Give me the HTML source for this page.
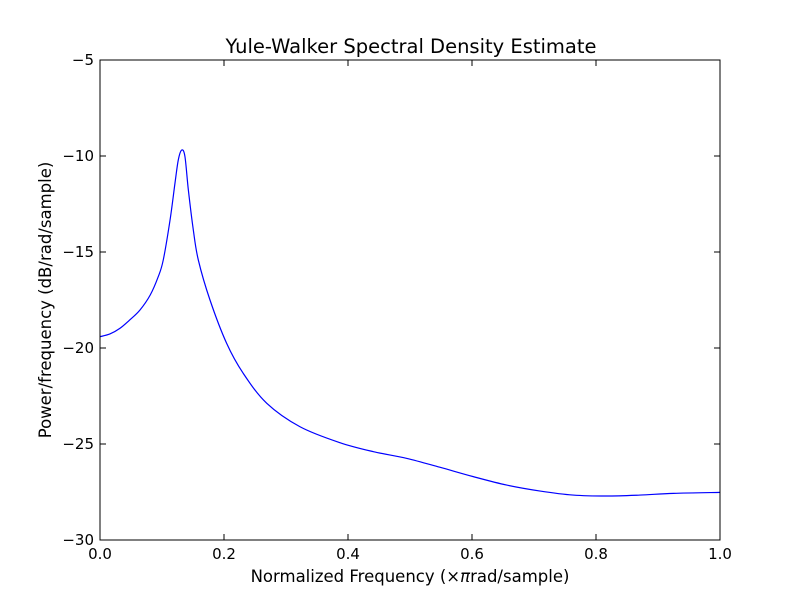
<!DOCTYPE html>
<html><head><meta charset="utf-8"><style>
body{margin:0;background:#fff}
svg{display:block;font-family:"DejaVu Sans","Liberation Sans",sans-serif}
</style></head><body>
<svg id="chart" width="800" height="600">
<rect width="800" height="600" fill="#fff"/>
<text x="411" y="53" font-size="19.5" text-anchor="middle">Yule-Walker Spectral Density Estimate</text>
<g id="plot"></g>
<text x="410" y="582" font-size="16.5" text-anchor="middle">Normalized Frequency (×<tspan font-style="italic">π</tspan>rad/sample)</text>
<text transform="translate(51,300) rotate(-90)" font-size="16.5" text-anchor="middle">Power/frequency (dB/rad/sample)</text>
</svg>
<script>
const freqs=[0,0.016,0.032,0.048,0.0645,0.081,0.094,0.102,0.113,0.121,0.1263,0.1318,0.137,0.1425,0.1505,0.1586,0.1774,0.2043,0.231,0.269,0.3226,0.387,0.441,0.495,0.548,0.602,0.656,0.71,0.763,0.817,0.871,0.925,1.0];
const power=[-19.41,-19.27,-18.98,-18.54,-18.02,-17.24,-16.28,-15.42,-13.33,-11.4,-10.2,-9.69,-10.03,-11.77,-13.85,-15.42,-17.5,-19.76,-21.32,-22.88,-24.1,-24.93,-25.4,-25.75,-26.21,-26.7,-27.14,-27.45,-27.66,-27.71,-27.66,-27.57,-27.52];
const xTicks=[0,0.2,0.4,0.6,0.8,1.0];
const xTickLabels=["0.0","0.2","0.4","0.6","0.8","1.0"];
const yTicks=[-5,-10,-15,-20,-25,-30];
const yTickLabels=["−5","−10","−15","−20","−25","−30"];
const L=100,R=720,T=60,B=540;
const sx=v=>L+(v-0)/(1-0)*(R-L);
const sy=v=>T+(-5-v)/25*(B-T);
const NS="http://www.w3.org/2000/svg";
const g=document.getElementById('plot');
function mk(tag,attrs){const e=document.createElementNS(NS,tag);for(const k in attrs)e.setAttribute(k,attrs[k]);g.appendChild(e);return e;}
const pts=freqs.map((f,i)=>[sx(f),sy(power[i])]);
let d='M'+pts[0][0]+','+pts[0][1];
for(let i=0;i<pts.length-1;i++){
 const p0=pts[Math.max(0,i-1)],p1=pts[i],p2=pts[i+1],p3=pts[Math.min(pts.length-1,i+2)];
 const c1=[p1[0]+(p2[0]-p0[0])/6,p1[1]+(p2[1]-p0[1])/6];
 const c2=[p2[0]-(p3[0]-p1[0])/6,p2[1]-(p3[1]-p1[1])/6];
 d+=' C'+c1[0]+','+c1[1]+' '+c2[0]+','+c2[1]+' '+p2[0]+','+p2[1];
}
const line=mk('path',{d:d,fill:'none',stroke:'#0000ff','stroke-width':1.2});


xTicks.forEach((t,i)=>{
 const a=mk('line',{x1:sx(t),x2:sx(t),y1:B,y2:B-6,stroke:'#000'});
 
 
 const b=mk('line',{x1:sx(t),x2:sx(t),y1:T,y2:T+6,stroke:'#000'});
 
 
 const tx=mk('text',{x:sx(t),y:B+19,'font-size':15,'text-anchor':'middle'});
 tx.textContent=xTickLabels[i];
 
 
});
yTicks.forEach((t,i)=>{
 const a=mk('line',{x1:L,x2:L+6,y1:sy(t),y2:sy(t),stroke:'#000'});
 
 
 const b=mk('line',{x1:R,x2:R-6,y1:sy(t),y2:sy(t),stroke:'#000'});
 
 
 const tx=mk('text',{x:L-6,y:sy(t)+5,'font-size':15,'text-anchor':'end'});
 tx.textContent=yTickLabels[i];
 
 
});
const frame=mk('rect',{x:L,y:T,width:R-L,height:B-T,fill:'none',stroke:'#000'});


</script>
</body></html>
